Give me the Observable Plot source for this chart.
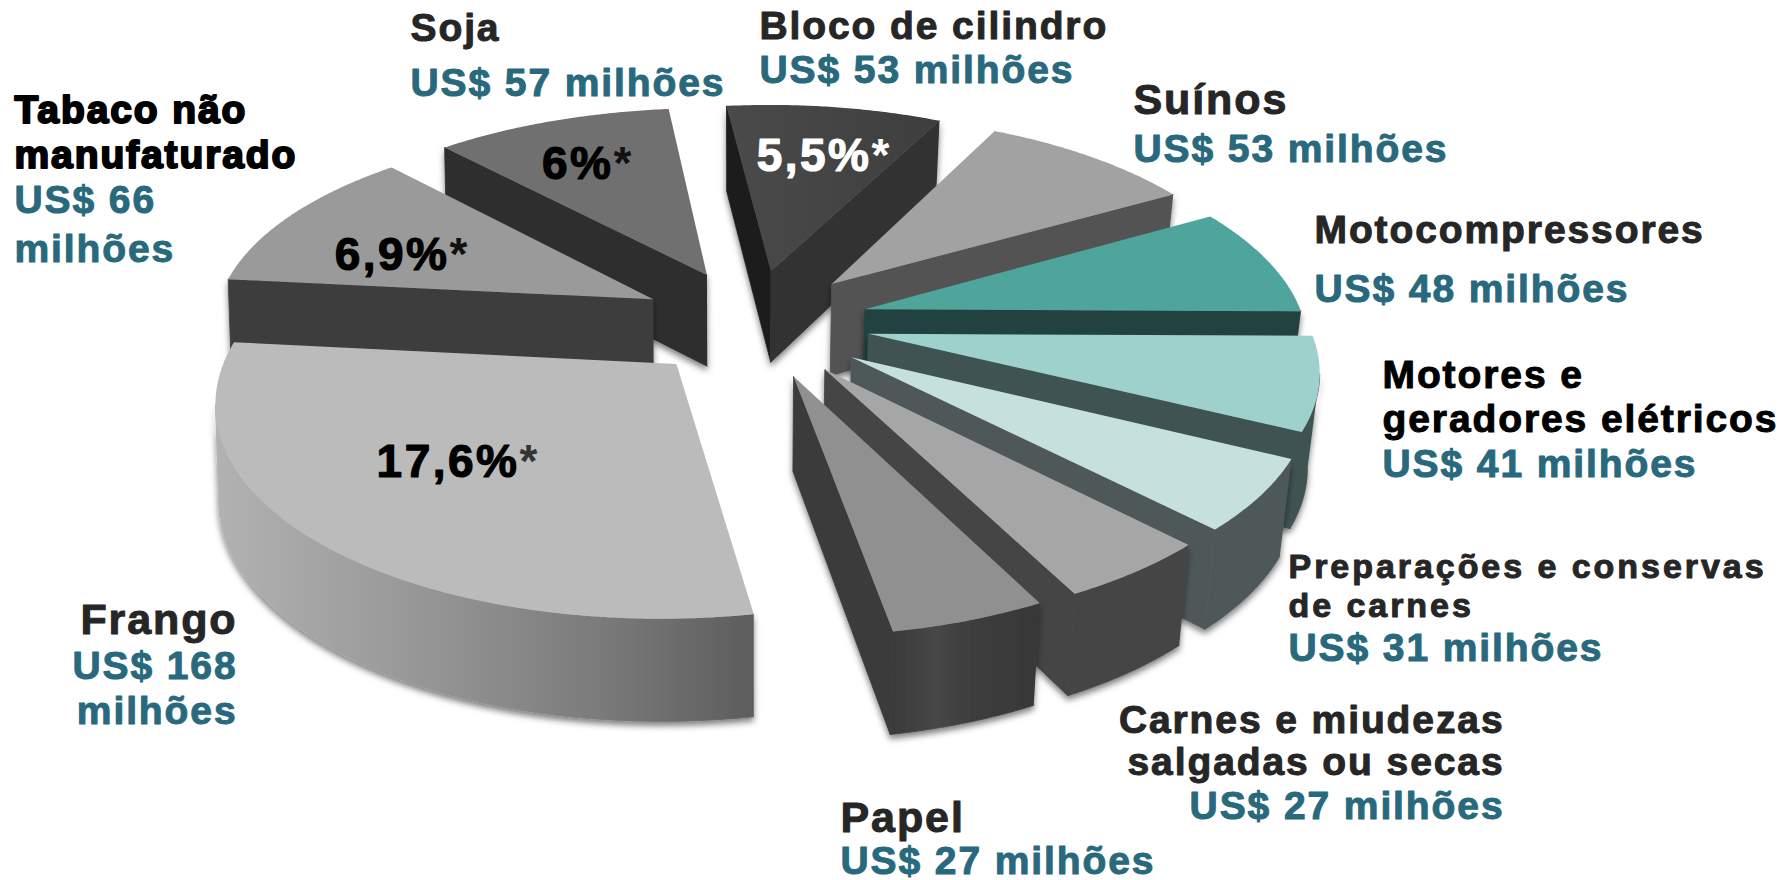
<!DOCTYPE html>
<html lang="pt-BR">
<head>
<meta charset="utf-8">
<script src="https://cdn.jsdelivr.net/npm/d3@7"></script>
<script src="https://cdn.jsdelivr.net/npm/@observablehq/plot@0.6"></script>
<style>
html,body{margin:0;padding:0;background:#fff;overflow:hidden}
svg{display:block}
</style>
</head>
<body>
<div id="chart"></div>
<script>
// ---- data ----
const categories = ["Frango","Tabaco não manufaturado","Soja","Bloco de cilindro","Suínos","Motocompressores","Motores e geradores elétricos","Preparações e conservas de carnes","Carnes e miudezas salgadas ou secas","Papel"];
const valuesMilhoes = [168,66,57,53,53,48,41,31,27,27];

// ---- styling of each slice, same order ----
const topFill  = ["#bbbbbb","#9a9a9a","#707070","url(#gBloco)","#a2a2a2","#4fa49c","#9ed0cc","#c6e1dd","#a6a6a6","#909090"];
const wallFill = ["url(#gFrango)","#3e3e3e","#2d2d2d","#333333","#525252","#234240","#3f5352","#4f5859","#444444","url(#gPapel)"];
const cutFill  = ["#5e5e5e","#3e3e3e","#2d2d2d","#333333","#525252","#234240","#3f5352","#4f5859","#444444","#3b3b3b"];
const firstCutFill = ["#5e5e5e","#3e3e3e","#2d2d2d","#1e1e1e","#525252","#234240","#3f5352","#4f5859","#444444","#3b3b3b"];
// how far each slice is pulled out of the pie (ground plane, radius = 1)
const pullX = [-.19,-.252,-.13,.02,.162,.235,.239,.197,.137,.068];
const pullY = [.194,-.12,-.245,-.266,-.198,-.07,.05,.162,.219,.251];

// ---- pie camera ----
const W = 1786, H = 880, cx = 762, cy = 323, R = 440, kR = 203, persp = .15, depth = 93, startDeg = 80;

const total = d3.sum(valuesMilhoes);
function project(X, Y) {
  const s = 1 / (1 - persp * Y);
  const backY = Y < 0 ? 1.012 : 1, backLeft = X < 0 && Y < 0 ? 1 - .03 * Y : 1;
  return {x: cx + X * R * s * backLeft, y: cy + Y * kR * s * backY, s};
}
const lower = p => ({x: p.x - (p.x - cx) * (p.x > cx ? .022 : .006), y: p.y + depth * Math.sqrt(p.s)});
function wall(upper) { return [...upper, ...upper.map(lower).reverse()]; }

let acc = startDeg;
const slices = valuesMilhoes.map((v, i) => {
  const a0 = acc, a1 = acc + v / total * 360;
  acc = a1;
  const n = Math.ceil(a1 - a0) * 2;
  const arc = d3.range(n + 1).map(j => {
    const t = (a0 + (a1 - a0) * j / n) * Math.PI / 180;
    return project(pullX[i] + Math.cos(t), pullY[i] + Math.sin(t));
  });
  const apex = project(pullX[i], pullY[i]);
  const walls = [];
  const add = (pts, fill, face) => pts.forEach(p => walls.push({x: p.x, y: p.y, fill, face}));
  // a wall is seen when its top edge runs leftwards on the clockwise outline
  if (arc[0].x < apex.x) add(wall([apex, arc[0]]), firstCutFill[i], "a");
  if (apex.x < arc[n].x) add(wall([arc[n], apex]), cutFill[i], "b");
  const seen = d3.range(n).filter(j => arc[j + 1].x < arc[j].x);
  if (seen.length) add(wall(arc.slice(seen[0], seen[seen.length - 1] + 2)), wallFill[i], "c");
  return {i, walls, top: {pts: [apex, ...arc], fill: topFill[i]}, order: Math.sin((a0 + a1) / 2 * Math.PI / 180)};
});
const drawOrder = d3.sort(slices, d => d.order);

// ---- texts ----
const dark = "#262626", teal = "#29697d", black = "#000";
const F = "'Liberation Sans', Arial, sans-serif";
const labels = [
  {t:"Soja", x:410, y:28, c:dark},
  {t:"US$ 57 milhões", x:410, y:83, c:teal},
  {t:"Bloco de cilindro", x:759, y:26, c:dark},
  {t:"US$ 53 milhões", x:759, y:70, c:teal},
  {t:"Suínos", x:1133, y:100, c:dark, s:43},
  {t:"US$ 53 milhões", x:1133, y:149, c:teal},
  {t:"Motocompressores", x:1314, y:230, c:dark},
  {t:"US$ 48 milhões", x:1314, y:289, c:teal},
  {t:"Motores e", x:1382, y:375, c:black},
  {t:"geradores elétricos", x:1382, y:419, c:black},
  {t:"US$ 41 milhões", x:1382, y:464, c:teal},
  {t:"US$ 31 milhões", x:1288, y:648, c:teal},
  {t:"Carnes e miudezas", x:1504, y:720, c:dark, a:"end"},
  {t:"salgadas ou secas", x:1504, y:762, c:dark, a:"end"},
  {t:"US$ 27 milhões", x:1504, y:806, c:teal, a:"end"},
  {t:"Papel", x:840, y:818, c:dark, s:43},
  {t:"US$ 27 milhões", x:840, y:861, c:teal},
  {t:"Frango", x:237, y:620, c:dark, a:"end", s:43},
  {t:"US$ 168", x:237, y:666, c:teal, a:"end"},
  {t:"milhões", x:237, y:711, c:teal, a:"end"},
  {t:"Tabaco não", x:14, y:110, c:black, w:2},
  {t:"manufaturado", x:14, y:155, c:black, w:2},
  {t:"US$ 66", x:14, y:200, c:teal},
  {t:"milhões", x:14, y:249, c:teal}
];
const wideLabels = [
  {t:"Preparações e conservas", x:1288, y:567, c:dark},
  {t:"de carnes", x:1288, y:606, c:dark}
];
const percents = [
  {t:"17,6%", x:519, y:462, c:black, star:"#333"},
  {t:"6,9%", x:449, y:255, c:black, star:"#111"},
  {t:"6%", x:613, y:164, c:black, star:"#111"},
  {t:"5,5%", x:871, y:156, c:"#fff", star:"#fff"}
];

const defs = () => {
  const d = d3.create("svg:defs");
  const grad = (id, stops) => {
    const g = d.append("linearGradient").attr("id", id).attr("x1", 0).attr("x2", 1).attr("y1", 0).attr("y2", 0);
    stops.forEach(([o, c]) => g.append("stop").attr("offset", o).attr("stop-color", c));
  };
  grad("gFrango", [[0, "#b2b2b2"], [.35, "#999999"], [.7, "#7c7c7c"], [1, "#5d5d5d"]]);
  grad("gPapel", [[0, "#3a3a3a"], [.3, "#474747"], [.6, "#3c3c3c"], [1, "#383838"]]);
  grad("gBloco", [[0, "#4a4a4a"], [1, "#3e3e3e"]]);
  d.append("filter").attr("id", "shadow").attr("filterUnits", "userSpaceOnUse")
    .attr("x", 0).attr("y", 0).attr("width", W).attr("height", H)
    .append("feDropShadow").attr("dx", 0).attr("dy", 4).attr("stdDeviation", 3).attr("flood-color", "#000").attr("flood-opacity", .5);
  return d.node();
};

const spaced = px => function (index, scales, values, dimensions, context, next) {
  const g = next(index, scales, values, dimensions, context);
  g.style.letterSpacing = px + "px";
  return g;
};
const shadowed = function (index, scales, values, dimensions, context, next) {
  const g = next(index, scales, values, dimensions, context);
  g.setAttribute("filter", "url(#shadow)");
  return g;
};

const textMark = (rows, anchor, size, spacing) => Plot.text(rows, {
  x: "x", y: "y", text: "t", fill: "c", stroke: "c", strokeWidth: d => d.w || 1,
  textAnchor: anchor, fontSize: d => d.s || size, fontWeight: "bold", fontFamily: F, render: spaced(spacing)
});

const chart = Plot.plot({
  width: W, height: H,
  margin: 0,
  x: {type: "identity", axis: null},
  y: {type: "identity", axis: null},
  color: {type: "identity"},
  style: {background: "#fff"},
  marks: [
    defs,
    ...drawOrder.flatMap(s => [
      Plot.line(s.walls, {x: "x", y: "y", z: "face", fill: "fill", stroke: "fill", strokeWidth: .8, curve: "linear", render: shadowed}),
      Plot.line(s.top.pts, {x: "x", y: "y", fill: s.top.fill, stroke: "none", curve: "linear"})
    ]),
    textMark(labels.filter(d => !d.a), "start", 39, 1.9),
    textMark(labels.filter(d => d.a), "end", 39, 1.9),
    textMark(wideLabels, "start", 34, 2.95),
    Plot.text(percents, {x: "x", y: "y", text: "t", fill: "c", textAnchor: "end", fontSize: 46, fontWeight: "bold", fontFamily: F, stroke: "c", strokeWidth: 1.2, render: spaced(2.5)}),
    Plot.text(percents, {x: "x", y: "y", text: () => "*", fill: "star", textAnchor: "start", fontSize: 46, fontWeight: "bold", fontFamily: F})
  ]
});
document.getElementById("chart").append(chart);
</script>
</body>
</html>
